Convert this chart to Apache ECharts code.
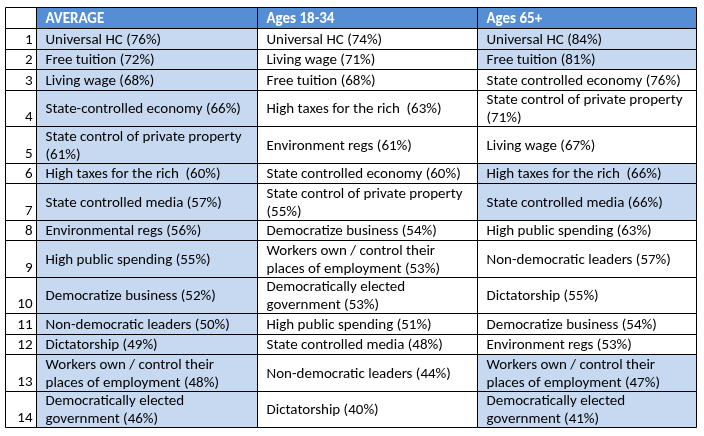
<!DOCTYPE html>
<html>
<head>
<meta charset="utf-8">
<script src="https://cdn.jsdelivr.net/npm/echarts@6/dist/echarts.min.js"></script>
<style>
  html, body { margin: 0; padding: 0; background: #fff; }
  #main { width: 704px; height: 436px; }
</style>
</head>
<body>
<div id="main"></div>
<script>
// table content
var headers = ['', 'AVERAGE', 'Ages 18-34', 'Ages 65+'];
var ranks = ['1', '2', '3', '4', '5', '6', '7', '8', '9', '10', '11', '12', '13', '14'];
var average = [
  'Universal HC (76%)',
  'Free tuition (72%)',
  'Living wage (68%)',
  'State-controlled economy (66%)',
  'State control of private property\n(61%)',
  'High taxes for the rich  (60%)',
  'State controlled media (57%)',
  'Environmental regs (56%)',
  'High public spending (55%)',
  'Democratize business (52%)',
  'Non-democratic leaders (50%)',
  'Dictatorship (49%)',
  'Workers own / control their\nplaces of employment (48%)',
  'Democratically elected\ngovernment (46%)'
];
var ages18to34 = [
  'Universal HC (74%)',
  'Living wage (71%)',
  'Free tuition (68%)',
  'High taxes for the rich  (63%)',
  'Environment regs (61%)',
  'State controlled economy (60%)',
  'State control of private property\n(55%)',
  'Democratize business (54%)',
  'Workers own / control their\nplaces of employment (53%)',
  'Democratically elected\ngovernment (53%)',
  'High public spending (51%)',
  'State controlled media (48%)',
  'Non-democratic leaders (44%)',
  'Dictatorship (40%)'
];
var ages65plus = [
  'Universal HC (84%)',
  'Free tuition (81%)',
  'State controlled economy (76%)',
  'State control of private property\n(71%)',
  'Living wage (67%)',
  'High taxes for the rich  (66%)',
  'State controlled media (66%)',
  'High public spending (63%)',
  'Non-democratic leaders (57%)',
  'Dictatorship (55%)',
  'Democratize business (54%)',
  'Environment regs (53%)',
  'Workers own / control their\nplaces of employment (47%)',
  'Democratically elected\ngovernment (41%)'
];
// ranks shaded in the 65+ column
var shaded65 = [1, 2, 6, 7, 13, 14];

// layout in axis units (1 unit = 1px)
var colWidths = [31, 220.5, 220, 219.5];
var headerHeight = 21;
var oneLine = 20.5, twoLines = 36.5;

var columns = [ranks, average, ages18to34, ages65plus];

var colEdges = [0];
colWidths.forEach(function (w, i) { colEdges.push(colEdges[i] + w); });

var rowEdges = [0, headerHeight];
for (var r = 0; r < ranks.length; r++) {
  var lines = 1;
  columns.forEach(function (col) { lines = Math.max(lines, col[r].split('\n').length); });
  rowEdges.push(rowEdges[rowEdges.length - 1] + (lines > 1 ? twoLines : oneLine));
}

var cells = [];
for (var row = 0; row < rowEdges.length - 1; row++) {
  for (var c = 0; c < colWidths.length; c++) {
    cells.push([colEdges[c], colEdges[c + 1], rowEdges[row], rowEdges[row + 1], c, row]);
  }
}

function cellText(c, row) {
  if (row === 0) return headers[c];
  return columns[c][row - 1];
}

function cellFill(c, row) {
  if (row === 0) return c === 0 ? '#ffffff' : '#558ed5';
  if (c === 1) return '#c6d9f1';
  if (c === 3 && shaded65.indexOf(row) >= 0) return '#c6d9f1';
  return '#ffffff';
}

var FONT = 'Calibri, Carlito, Lato, sans-serif';

function renderItem(params, api) {
  var c = api.value(4), row = api.value(5);
  var a = api.coord([api.value(0), api.value(2)]);
  var b = api.coord([api.value(1), api.value(3)]);
  var x0 = Math.round(Math.min(a[0], b[0])) + 0.5;
  var x1 = Math.round(Math.max(a[0], b[0])) + 0.5;
  var y0 = Math.round(Math.min(a[1], b[1])) + 0.5;
  var y1 = Math.round(Math.max(a[1], b[1])) + 0.5;

  var txt;
  if (row === 0) {
    txt = { x: x0 + 9, y: (y0 + y1) / 2 + 1, align: 'left', verticalAlign: 'middle',
            fontWeight: 'bold', fill: '#ffffff' };
  } else if (c === 0) {
    txt = { x: x1 - 4, y: y1, align: 'right', verticalAlign: 'bottom',
            fontWeight: 'normal', fill: '#000000' };
  } else {
    txt = { x: x0 + 9, y: (y0 + y1) / 2 + 1, align: 'left', verticalAlign: 'middle',
            fontWeight: 'normal', fill: '#000000' };
  }
  txt.text = cellText(c, row);
  txt.fontFamily = FONT;
  txt.fontSize = 15;
  txt.lineHeight = 18;

  return {
    type: 'group',
    children: [
      { type: 'rect', shape: { x: x0, y: y0, width: x1 - x0, height: y1 - y0 },
        style: { fill: cellFill(c, row), stroke: '#000000', lineWidth: 1 } },
      { type: 'text', style: txt }
    ]
  };
}

var chart = echarts.init(document.getElementById('main'));
chart.setOption({
  animation: false,
  backgroundColor: '#ffffff',
  grid: { left: 5, top: 7, width: colEdges[colEdges.length - 1], height: rowEdges[rowEdges.length - 1] },
  xAxis: { type: 'value', min: 0, max: colEdges[colEdges.length - 1], show: false },
  yAxis: { type: 'value', min: 0, max: rowEdges[rowEdges.length - 1], inverse: true, show: false },
  series: [{
    type: 'custom',
    renderItem: renderItem,
    clip: false,
    data: cells
  }]
});
</script>
</body>
</html>
